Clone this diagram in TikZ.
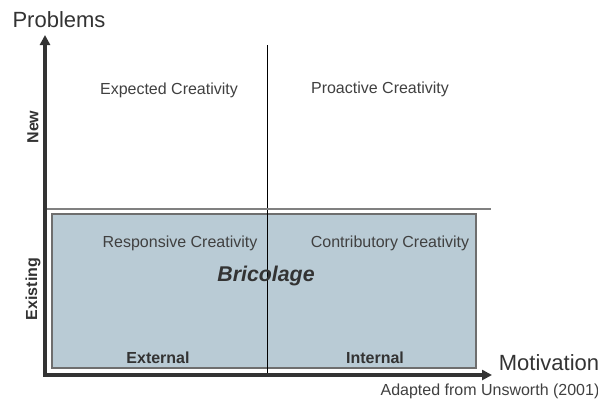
\documentclass[tikz,border=0pt]{standalone}
\usepackage{fontspec}
\setmainfont{Liberation Sans}
\usepackage{tikz}
\usetikzlibrary{arrows.meta}

\definecolor{axisgrey}{HTML}{333333}
\definecolor{textgrey}{HTML}{404040}
\definecolor{boxfill}{HTML}{B9CBD5}
\definecolor{boxline}{HTML}{6E6E6E}

\begin{document}
\begin{tikzpicture}
    [
        x = 0.75pt, y = -0.75pt,
        axis/.style     = {draw=axisgrey, line width=2.6pt, -{Triangle[length=7.5pt,width=7.5pt]}},
        quadrant/.style = {text=textgrey, font=\fontsize{12}{14}\selectfont},
        level/.style    = {text=axisgrey, font=\fontsize{12}{14}\selectfont\bfseries},
        axislabel/.style= {text=axisgrey, font=\fontsize{16.5}{19}\selectfont, inner sep=0pt}
    ]
    \useasboundingbox (0,0) rectangle (598,401);

    % shaded area
    \draw [fill=boxfill, draw=boxline, line width=0.9pt] (52,214) rectangle (476,368);

    % grid lines
    \coordinate (divTop) at (267,45);
    \coordinate (divBottom) at (267,375);
    \coordinate (midLeft) at (45,209);
    \coordinate (midRight) at (491,209);
    \draw [black, line width=0.7pt] (divTop) -- (divBottom);
    \draw [gray, line width=1.1pt] (midLeft) -- (midRight);

    % axes
    \coordinate (origin) at (45,375);
    \coordinate (yEnd) at (45,35);
    \coordinate (xEnd) at (492,375);
    \draw [axis] (origin) -- (yEnd);
    \draw [axis] (origin) -- (xEnd);
    \draw [axisgrey, line width=2.6pt] ([xshift=-1.3pt]origin) -- (origin);

    \node [axislabel] at (59,20) (problems) {Problems};
    \node [axislabel] at (549,363) (motivation) {Motivation};
    \node [quadrant] at (490,391) (source) {Adapted from Unsworth (2001)};

    \node [quadrant] at (169,90) (expected) {Expected Creativity};
    \node [quadrant] at (380,89) (proactive) {Proactive Creativity};
    \node [quadrant] at (180,243) (responsive) {Responsive Creativity};
    \node [quadrant] at (390,243) (contributory) {Contributory Creativity};
    \node [text=axisgrey, font=\fontsize{16}{19}\selectfont\bfseries\itshape] at (266,276) (bricolage) {Bricolage};

    \node [level, rotate=90] at (33,127) (new) {New};
    \node [level, rotate=90] at (33,289) (existing) {Existing};
    \node [level] at (158,358) (external) {External};
    \node [level] at (375,358) (internal) {Internal};
\end{tikzpicture}
\end{document}
